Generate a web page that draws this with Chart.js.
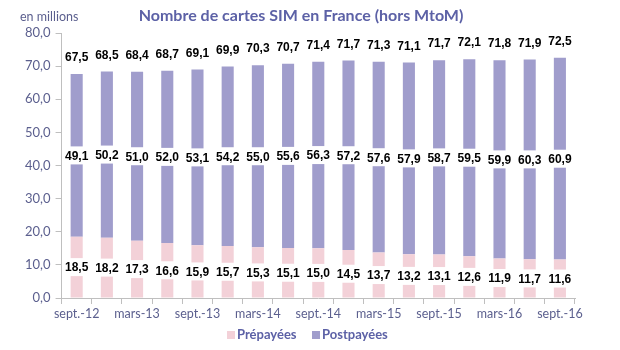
<!DOCTYPE html>
<html>
<head>
<meta charset="utf-8">
<script src="https://cdn.jsdelivr.net/npm/chart.js@4/dist/chart.umd.min.js"></script>
<style>
html,body{margin:0;padding:0;background:#fff;}
#wrap{width:620px;height:350px;position:relative;}
</style>
</head>
<body>
<div id="wrap"><canvas id="c" width="620" height="350"></canvas></div>
<script>
const categories = ["sept.-12","déc.-12","mars-13","juin-13","sept.-13","déc.-13","mars-14","juin-14","sept.-14","déc.-14","mars-15","juin-15","sept.-15","déc.-15","mars-16","juin-16","sept.-16"];
const prepayees = [18.5,18.2,17.3,16.6,15.9,15.7,15.3,15.1,15.0,14.5,13.7,13.2,13.1,12.6,11.9,11.7,11.6];
const postpayees = [49.1,50.2,51.0,52.0,53.1,54.2,55.0,55.6,56.3,57.2,57.6,57.9,58.7,59.5,59.9,60.3,60.9];
const totals = [67.5,68.5,68.4,68.7,69.1,69.9,70.3,70.7,71.4,71.7,71.3,71.1,71.7,72.1,71.8,71.9,72.5];
const seriesNames = ["Prépayées","Postpayées"];
const titleText = "Nombre de cartes SIM en France (hors MtoM)";
const unitText = "en millions";

const PINK = "#F3D1D8";
const LAV = "#A09DCC";
const AXIS_TXT = "#5B5F8E";
const TITLE_COL = "#5C61A6";
const fmt = v => v.toFixed(1).replace('.', ',');

const labelPlugin = {
  id: 'labelsAndText',
  afterDatasetsDraw(chart) {
    const ctx = chart.ctx;
    ctx.save();
    ctx.font = "bold 12px 'Liberation Sans', Arial, sans-serif";
    ctx.textAlign = 'center';
    ctx.textBaseline = 'middle';
    const drawLbl = (txt, x, y) => {
      const w = ctx.measureText(txt).width + 4;
      ctx.fillStyle = '#fff';
      ctx.fillRect(x - w/2, y - 9, w, 18);
      ctx.fillStyle = '#000';
      ctx.fillText(txt, x, y + 1);
    };
    const m0 = chart.getDatasetMeta(0), m1 = chart.getDatasetMeta(1);
    m0.data.forEach((b, i) => drawLbl(fmt(prepayees[i]), b.x, (b.y + b.base)/2));
    m1.data.forEach((b, i) => drawLbl(fmt(postpayees[i]), b.x, (b.y + b.base)/2));
    m1.data.forEach((b, i) => drawLbl(fmt(totals[i]), b.x, b.y - 17));
    ctx.restore();
  },
  afterDraw(chart) {
    const ctx = chart.ctx;
    ctx.save();
    ctx.textBaseline = 'middle';
    ctx.fillStyle = TITLE_COL;
    ctx.font = "bold 16px Lato, 'Open Sans', sans-serif";
    ctx.textAlign = 'center';
    ctx.fillText(titleText, 301, 16);
    ctx.fillStyle = AXIS_TXT;
    ctx.font = "12.5px Lato, 'Open Sans', sans-serif";
    ctx.textAlign = 'left';
    ctx.fillText(unitText, 20, 17);
    // legend
    ctx.font = "bold 13px Lato, 'Open Sans', sans-serif";
    const ly = 335;
    ctx.fillStyle = PINK;
    ctx.fillRect(227, ly - 4, 8, 8);
    ctx.fillStyle = TITLE_COL;
    ctx.fillText(seriesNames[0], 237, ly);
    ctx.fillStyle = LAV;
    ctx.fillRect(312, ly - 4, 8, 8);
    ctx.fillStyle = TITLE_COL;
    ctx.fillText(seriesNames[1], 322, ly);
    ctx.restore();
  }
};

new Chart(document.getElementById('c'), {
  type: 'bar',
  data: {
    labels: categories,
    datasets: [
      { label: seriesNames[0], data: prepayees, backgroundColor: PINK, barPercentage: 0.4, categoryPercentage: 1 },
      { label: seriesNames[1], data: postpayees, backgroundColor: LAV, barPercentage: 0.4, categoryPercentage: 1 }
    ]
  },
  options: {
    responsive: false,
    animation: false,
    layout: { padding: { top: 33, left: 20, right: 45, bottom: 27 } },
    plugins: { legend: { display: false }, title: { display: false }, tooltip: { enabled: false } },
    scales: {
      x: {
        stacked: true,
        grid: { display: true, drawOnChartArea: false, offset: true, tickLength: 6, color: '#BFBFBF' },
        border: { color: '#BFBFBF' },
        ticks: {
          autoSkip: false, maxRotation: 0, padding: 2,
          color: AXIS_TXT, font: { family: "Lato, 'Open Sans', sans-serif", size: 12.5 },
          callback: (v, i) => (i % 2 === 0 ? categories[i] : '')
        }
      },
      y: {
        stacked: true, min: 0, max: 80,
        grid: { display: true, drawOnChartArea: false, tickLength: 6, color: '#BFBFBF' },
        border: { color: '#BFBFBF' },
        ticks: {
          stepSize: 10, padding: 5,
          color: AXIS_TXT, font: { family: "Lato, 'Open Sans', sans-serif", size: 13 },
          callback: v => fmt(v)
        }
      }
    }
  },
  plugins: [labelPlugin]
});
</script>
</body>
</html>
